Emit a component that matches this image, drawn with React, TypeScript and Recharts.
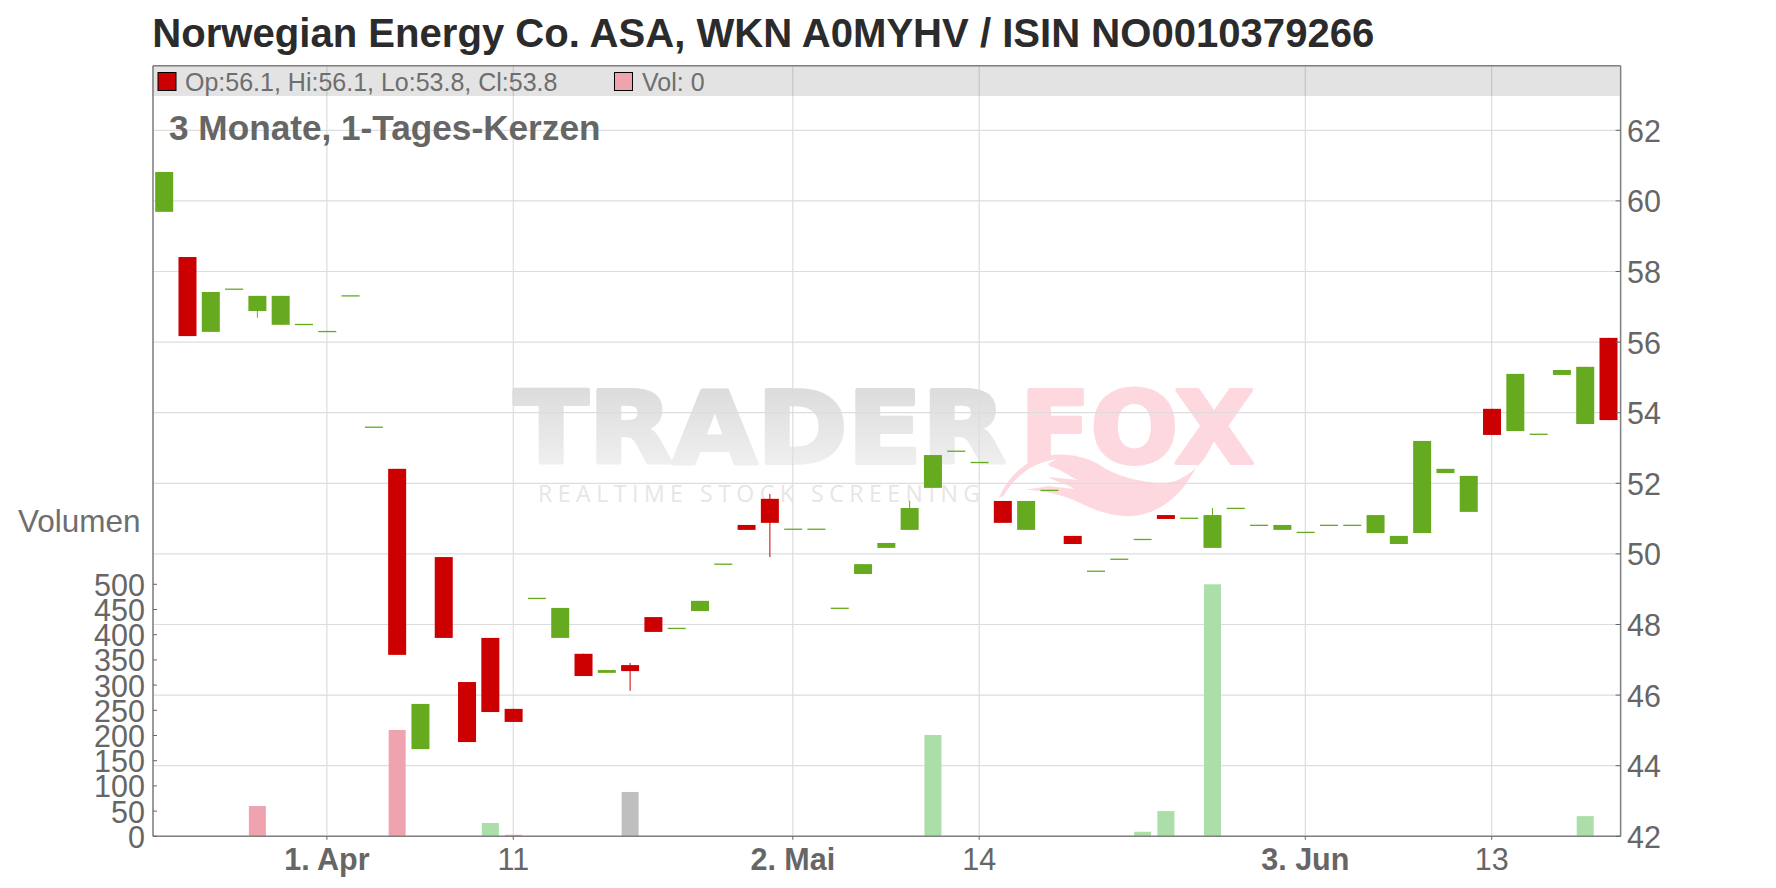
import React from "react";
import { ComposedChart, Bar, XAxis, YAxis, CartesianGrid, ReferenceArea, ReferenceLine } from "recharts";

const days = ["21.03","22.03","25.03","26.03","27.03","28.03","29.03","01.04","02.04","03.04","04.04","05.04","08.04","09.04","10.04","11.04","12.04","15.04","16.04","17.04","18.04","23.04","24.04","25.04","26.04","29.04","30.04","02.05","03.05","06.05","07.05","08.05","09.05","10.05","13.05","14.05","15.05","16.05","17.05","20.05","21.05","22.05","23.05","24.05","27.05","28.05","29.05","30.05","31.05","03.06","04.06","05.06","06.06","07.06","10.06","11.06","12.06","13.06","14.06","17.06","18.06","19.06","20.06"];
const opens = [59.69,58.41,56.29,57.5,56.88,56.49,56.5,56.3,57.31,53.59,52.41,44.47,49.91,46.37,47.62,45.61,48.74,47.62,47.17,46.63,46.85,48.21,47.89,48.38,49.71,50.82,51.56,50.7,50.7,48.46,49.43,50.17,50.68,51.87,52.91,52.59,51.5,50.68,51.8,50.51,49.51,49.85,50.41,51.1,51.01,50.17,51.29,50.81,50.68,50.61,50.81,50.81,50.59,50.28,50.59,52.29,51.19,54.11,53.48,53.39,55.07,53.68,56.12];
const closes = [60.82,56.17,57.42,57.5,57.31,57.31,56.5,56.3,57.31,53.59,47.14,45.75,47.62,44.67,45.52,45.24,48.74,48.47,46.54,46.71,46.68,47.79,47.89,48.67,49.71,50.68,50.88,50.7,50.7,48.46,49.71,50.31,51.3,52.8,52.91,52.59,50.88,51.5,51.8,50.28,49.51,49.85,50.41,50.99,51.01,51.1,51.29,50.81,50.82,50.61,50.81,50.81,51.1,50.51,53.2,52.41,52.21,53.37,55.1,53.39,55.21,55.3,53.79];
const highs = [60.82,58.41,57.42,57.5,57.31,57.31,56.5,56.3,57.31,53.59,52.41,45.75,49.91,46.37,47.62,45.61,48.74,48.47,47.17,46.71,46.91,48.21,47.89,48.67,49.71,50.82,51.7,50.7,50.7,48.46,49.71,50.31,51.5,52.8,52.91,52.59,51.5,51.5,51.8,50.51,49.51,49.85,50.41,51.1,51.01,51.3,51.29,50.81,50.82,50.61,50.81,50.81,51.1,50.51,53.2,52.41,52.21,54.11,55.1,53.39,55.21,55.3,56.12];
const lows = [59.69,56.17,56.29,57.5,56.69,56.49,56.5,56.3,57.31,53.59,47.14,44.47,47.62,44.67,45.52,45.24,48.74,47.62,46.54,46.63,46.12,47.79,47.89,48.38,49.71,50.68,49.91,50.7,50.7,48.46,49.43,50.17,50.68,51.87,52.91,52.59,50.88,50.68,51.8,50.28,49.51,49.85,50.41,50.99,51.01,50.17,51.29,50.81,50.68,50.61,50.81,50.81,50.59,50.28,50.59,52.29,51.19,53.37,53.48,53.39,55.07,53.68,53.79];
const volumes = [0,0,0,0,60,0,0,0,0,0,211,0,0,0,26.5,3,0,0,0,0,88,0,0,0,0,0,0,0,0,0,0,0,0,201,0,0,0,0,0,0,0,0,9,50,0,500,0,0,0,0,0,0,0,0,0,0,0,0,0,0,0,40,0];
const volumeTrend: Record<number, string> = { 4: "down", 10: "down", 14: "up", 15: "down", 20: "flat", 33: "up", 42: "up", 43: "up", 45: "up", 61: "up" };
const tickLabels: Record<string, string> = { "01.04": "1. Apr", "11.04": "11", "02.05": "2. Mai", "14.05": "14", "03.06": "3. Jun", "13.06": "13" };
const majorTicks = ["1. Apr", "2. Mai", "3. Jun"];
const priceTicks = [42,44,46,48,50,52,54,56,58,60,62];
const volumeTicks = [0,50,100,150,200,250,300,350,400,450,500];

const TITLE = "Norwegian Energy Co. ASA, WKN A0MYHV / ISIN NO0010379266";
const LEGEND = "Op:56.1, Hi:56.1, Lo:53.8, Cl:53.8";
const LEGEND_VOL = "Vol: 0";
const SUBTITLE = "3 Monate, 1-Tages-Kerzen";

const data = days.map((day, i) => ({ day, open: opens[i], close: closes[i], high: highs[i], low: lows[i], volume: volumes[i], trend: volumeTrend[i] }));

const FONT = "'Liberation Sans', Arial, sans-serif";
const L = 153, R = 1620.6, T = 65.7, B = 836.3;
const GREEN = "#66aa1f", RED = "#cc0000";
const VOL: Record<string, string> = { up: "#abdea9", down: "#efa3ae", flat: "#bfbfbf" };
const TICKTEXT = "#666666";

function Candle(props: any) {
  const { x, y, width, height, payload } = props;
  const { open, close, high, low } = payload;
  const up = close >= open;
  const col = up ? GREEN : RED;
  const cx = x + width / 2;
  const span = high - low;
  if (span < 0.001) return <rect x={x} y={y - 0.6} width={width} height={1.3} fill={col} />;
  const ppu = height / span;
  const top = y + (high - Math.max(open, close)) * ppu;
  const h = Math.abs(open - close) * ppu;
  return (
    <g>
      <line x1={cx} x2={cx} y1={y} y2={y + height} stroke={col} strokeWidth={1} />
      <rect x={x} y={top} width={width} height={h} fill={col} />
    </g>
  );
}

function VolumeBar(props: any) {
  const { x, y, width, height, payload } = props;
  if (!payload.volume) return null;
  return <rect x={x + 0.5} y={y} width={width} height={height} fill={VOL[payload.trend]} />;
}

function PriceTick(props: any) {
  const { y, payload } = props;
  return (
    <g>
      <line x1={R - 5} x2={R} y1={y} y2={y} stroke="#666" strokeWidth={1} />
      <text x={R + 6.5} y={y + 11.5} fontSize={30.5} fontFamily={FONT} fill={TICKTEXT}>{payload.value}</text>
    </g>
  );
}

function VolumeTick(props: any) {
  const { y, payload } = props;
  return (
    <g>
      <line x1={L} x2={L + 4} y1={y} y2={y} stroke="#666" strokeWidth={1} />
      <text x={145} y={y + 11.5} textAnchor="end" fontSize={30.5} fontFamily={FONT} fill={TICKTEXT}>{payload.value}</text>
    </g>
  );
}

function DayTick(props: any) {
  const { x, payload } = props;
  const label = tickLabels[payload.value];
  return (
    <g>
      <line x1={x} x2={x} y1={B} y2={B + 3.5} stroke="#666" strokeWidth={1} />
      <text x={x} y={870} textAnchor="middle" fontSize={30.5} fontWeight={majorTicks.includes(label) ? "bold" : "normal"} fontFamily={FONT} fill={TICKTEXT}>{label}</text>
    </g>
  );
}

function Watermark() {
  return (
    <svg width={1776} height={888} style={{ position: "absolute", left: 0, top: 0 }}>
      <defs>
        <linearGradient id="wm" gradientUnits="userSpaceOnUse" x1="0" y1="388" x2="0" y2="465">
          <stop offset="0" stopColor="#dcdcdc" />
          <stop offset="1" stopColor="#efefef" />
        </linearGradient>
      </defs>
      <text x={514} y={463} fontFamily="'DejaVu Sans', sans-serif" fontWeight="bold" fontSize={100} textLength={492} lengthAdjust="spacingAndGlyphs" fill="url(#wm)" stroke="url(#wm)" strokeWidth={4} strokeLinejoin="round">TRADER</text>
      <text x={1020} y={463} fontFamily="'DejaVu Sans', sans-serif" fontWeight="bold" fontSize={100} textLength={234} lengthAdjust="spacingAndGlyphs" fill="#fdd9df" stroke="#fdd9df" strokeWidth={4} strokeLinejoin="round">FOX</text>
      <path fill="#fdd9df" d="M1261 387 C1240 392 1228 402 1222 420 C1214 442 1208 456 1198 466 C1186 478 1172 484 1160 483 C1140 482 1115 476 1098 464 C1080 454 1060 453 1045 456 C1022 462 1006 480 999 498 C1010 492 1022 489 1034 490 C1050 492 1066 496 1080 503 C1098 512 1116 517 1132 516 C1152 515 1172 503 1186 484 C1200 464 1210 440 1220 420 C1228 404 1242 392 1261 387 Z" />
      <path fill="#fdd9df" d="M1010 488 C1020 476 1040 466 1060 463 L1120 480 L1180 490 L1150 510 L1090 505 L1050 492 Z" />
      <path fill="#ffffff" d="M1003 497 C1016 474 1034 462 1058 459 C1050 462 1046 464 1050 466 C1062 470 1072 478 1078 480 L1048 477 C1056 482 1068 484 1074 489 L1048 486 C1040 488 1020 489 1003 497 Z" />
      <text x={538} y={502} fontFamily="'Open Sans', sans-serif" fontSize={23} textLength={442} fill="#e6e6e6">REALTIME STOCK SCREENING</text>
    </svg>
  );
}

function Overlay() {
  return (
    <svg width={1776} height={888} style={{ position: "absolute", left: 0, top: 0, pointerEvents: "none" }}>
      <text x={152.3} y={47} fontFamily={FONT} fontWeight="bold" fontSize={40.1} fill="#2b2b2b">{TITLE}</text>
      <rect x={158} y={72.5} width={18} height={18} fill={RED} stroke="#000" strokeWidth={1} />
      <text x={185} y={91} fontFamily={FONT} fontSize={25} fill="#6e6e6e">{LEGEND}</text>
      <rect x={614.5} y={72.5} width={18} height={18} fill="#efa3ae" stroke="#000" strokeWidth={1} />
      <text x={642} y={91} fontFamily={FONT} fontSize={25} fill="#6e6e6e">{LEGEND_VOL}</text>
      <text x={169} y={140} fontFamily={FONT} fontWeight="bold" fontSize={35.2} fill="#666">{SUBTITLE}</text>
      <text x={18} y={532} fontFamily={FONT} fontSize={31.5} fill="#6e6e6e">Volumen</text>
    </svg>
  );
}

export default function App() {
  return (
    <div style={{ position: "absolute", left: 0, top: 0, width: 1776, height: 888, background: "#fff", overflow: "hidden" }}>
      <Watermark />
      <div style={{ position: "absolute", left: 0, top: 0 }}>
        <ComposedChart width={1776} height={888} data={data} barGap={0} margin={{ top: T, left: 0, right: 1776 - R - 100, bottom: 888 - B - 45 }}>
          <CartesianGrid xAxisId="x" yAxisId="price" stroke="#dddddd" strokeWidth={1.2} />
          <XAxis xAxisId="x" dataKey="day" type="category" height={45} interval={0} ticks={Object.keys(tickLabels)} tick={<DayTick />} tickLine={false} axisLine={{ stroke: "#808080", strokeWidth: 1.5 }} padding={{ left: -0.8, right: 0.8 }} />
          <XAxis xAxisId="v" dataKey="day" type="category" hide height={0} padding={{ left: -0.8, right: 0.8 }} />
          <YAxis yAxisId="vol" orientation="left" width={L} domain={[0, 1529]} ticks={volumeTicks} interval={0} tick={<VolumeTick />} tickLine={false} axisLine={{ stroke: "#808080", strokeWidth: 1.5 }} />
          <YAxis yAxisId="price" orientation="right" width={100} domain={[42, 63.83]} ticks={priceTicks} interval={0} tick={<PriceTick />} tickLine={false} axisLine={{ stroke: "#808080", strokeWidth: 1.5 }} allowDataOverflow />
          <ReferenceArea xAxisId="x" yAxisId="price" y1={62.97} y2={63.83} fill="#000000" fillOpacity={0.11} stroke="none" ifOverflow="visible" />
          <ReferenceLine xAxisId="x" yAxisId="price" y={63.83} stroke="#808080" strokeWidth={1.5} />
          <Bar xAxisId="v" yAxisId="vol" dataKey="volume" barSize={17} shape={<VolumeBar />} isAnimationActive={false} />
          <Bar xAxisId="x" yAxisId="price" dataKey={(d: any) => [d.low, d.high]} barSize={18} shape={<Candle />} isAnimationActive={false} />
        </ComposedChart>
      </div>
      <Overlay />
    </div>
  );
}
